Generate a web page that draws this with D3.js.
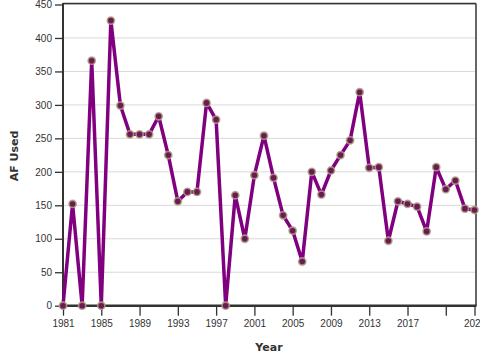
<!DOCTYPE html>
<html>
<head>
<meta charset="utf-8">
<script src="https://cdn.jsdelivr.net/npm/d3@7"></script>
<style>
  html, body { margin: 0; padding: 0; background: #fff; }
  svg { display: block; font-family: "DejaVu Sans", Verdana, sans-serif; }
</style>
</head>
<body>
<svg id="chart" width="480" height="360"></svg>
<script>
const years = d3.range(1981, 2025);
const afUsed = [0, 152, 0, 366, 0, 426, 299, 256, 256, 256,
                283, 225, 156, 170, 170, 303, 278, 0, 165, 100,
                195, 254, 191, 135, 112, 66, 200, 166, 202, 225,
                247, 319, 206, 207, 97, 156, 152, 148, 111, 207,
                174, 187, 145, 143];
const yTicks = [0, 50, 100, 150, 200, 250, 300, 350, 400, 450];
const xTickValues = [1981, 1985, 1989, 1993, 1997, 2001, 2005, 2009, 2013, 2017, 2021, 2024];
const xTickLabels = ["1981", "1985", "1989", "1993", "1997", "2001", "2005", "2009", "2013", "2017", "", "2024"];

const svg = d3.select("#chart");
const mLeft = 63, mRight = 474.5, mTop = 4.5, mBottom = 305.7;

const x = d3.scaleLinear().domain([1981, 2024]).range([mLeft, mRight]);
const y = d3.scaleLinear().domain([0, 450]).range([mBottom, mTop]);

// gridlines
svg.append("g")
  .selectAll("line")
  .data(yTicks.slice(1))
  .join("line")
  .attr("x1", mLeft).attr("x2", mRight + 1)
  .attr("y1", d => y(d)).attr("y2", d => y(d))
  .attr("stroke", "#d9d9d9").attr("stroke-width", 1);

// frame (top, right)
svg.append("line").attr("x1", mLeft).attr("x2", mRight + 1.5).attr("y1", 3.5).attr("y2", 3.5)
  .attr("stroke", "#333").attr("stroke-width", 1.5);
svg.append("line").attr("x1", mRight + 1.5).attr("x2", mRight + 1.5).attr("y1", 3.5).attr("y2", mBottom)
  .attr("stroke", "#333").attr("stroke-width", 1.5);

// y axis
const yAxis = svg.append("g")
  .attr("transform", `translate(${mLeft},0)`)
  .call(d3.axisLeft(y).tickValues(yTicks).tickSize(8).tickPadding(3).tickFormat(d3.format("d")));
yAxis.select(".domain").attr("stroke", "#333").attr("stroke-width", 2).attr("d", `M0,${mBottom}V3`);
yAxis.selectAll(".tick line").attr("stroke", "#333").attr("stroke-width", 1.3);
yAxis.selectAll(".tick text").attr("fill", "#333").style("font-size", "10px");

// x axis
const xAxis = svg.append("g")
  .attr("transform", `translate(0,${mBottom})`)
  .call(d3.axisBottom(x).tickValues(xTickValues).tickSize(10).tickPadding(4)
    .tickFormat((d, i) => xTickLabels[i]));
xAxis.select(".domain").attr("stroke", "#333").attr("stroke-width", 2.5).attr("d", `M${mLeft},0H${mRight + 2}`);
xAxis.selectAll(".tick line").attr("stroke", "#333").attr("stroke-width", 1.3);
xAxis.selectAll(".tick text").attr("fill", "#333").style("font-size", "10px");

// axis titles
svg.append("text")
  .attr("transform", "translate(18,156) rotate(-90)")
  .attr("text-anchor", "middle")
  .attr("fill", "#333")
  .style("font-size", "11px").style("font-weight", "bold")
  .text("AF Used");
svg.append("text")
  .attr("x", 269).attr("y", 351)
  .attr("text-anchor", "middle")
  .attr("fill", "#333")
  .style("font-size", "11px").style("font-weight", "bold")
  .text("Year");

// line
const line = d3.line().x((d, i) => x(years[i])).y(d => y(d));
svg.append("path")
  .datum(afUsed)
  .attr("d", line)
  .attr("fill", "none")
  .attr("stroke", "#800080")
  .attr("stroke-width", 3.5)
  .attr("stroke-linejoin", "round");

// points
svg.append("g")
  .selectAll("circle")
  .data(afUsed)
  .join("circle")
  .attr("cx", (d, i) => x(years[i]))
  .attr("cy", d => y(d))
  .attr("r", 3.6)
  .attr("fill", "#6a1b52")
  .attr("stroke", "#b0a084")
  .attr("stroke-opacity", 0.85)
  .attr("stroke-width", 1.6);
</script>
</body>
</html>
